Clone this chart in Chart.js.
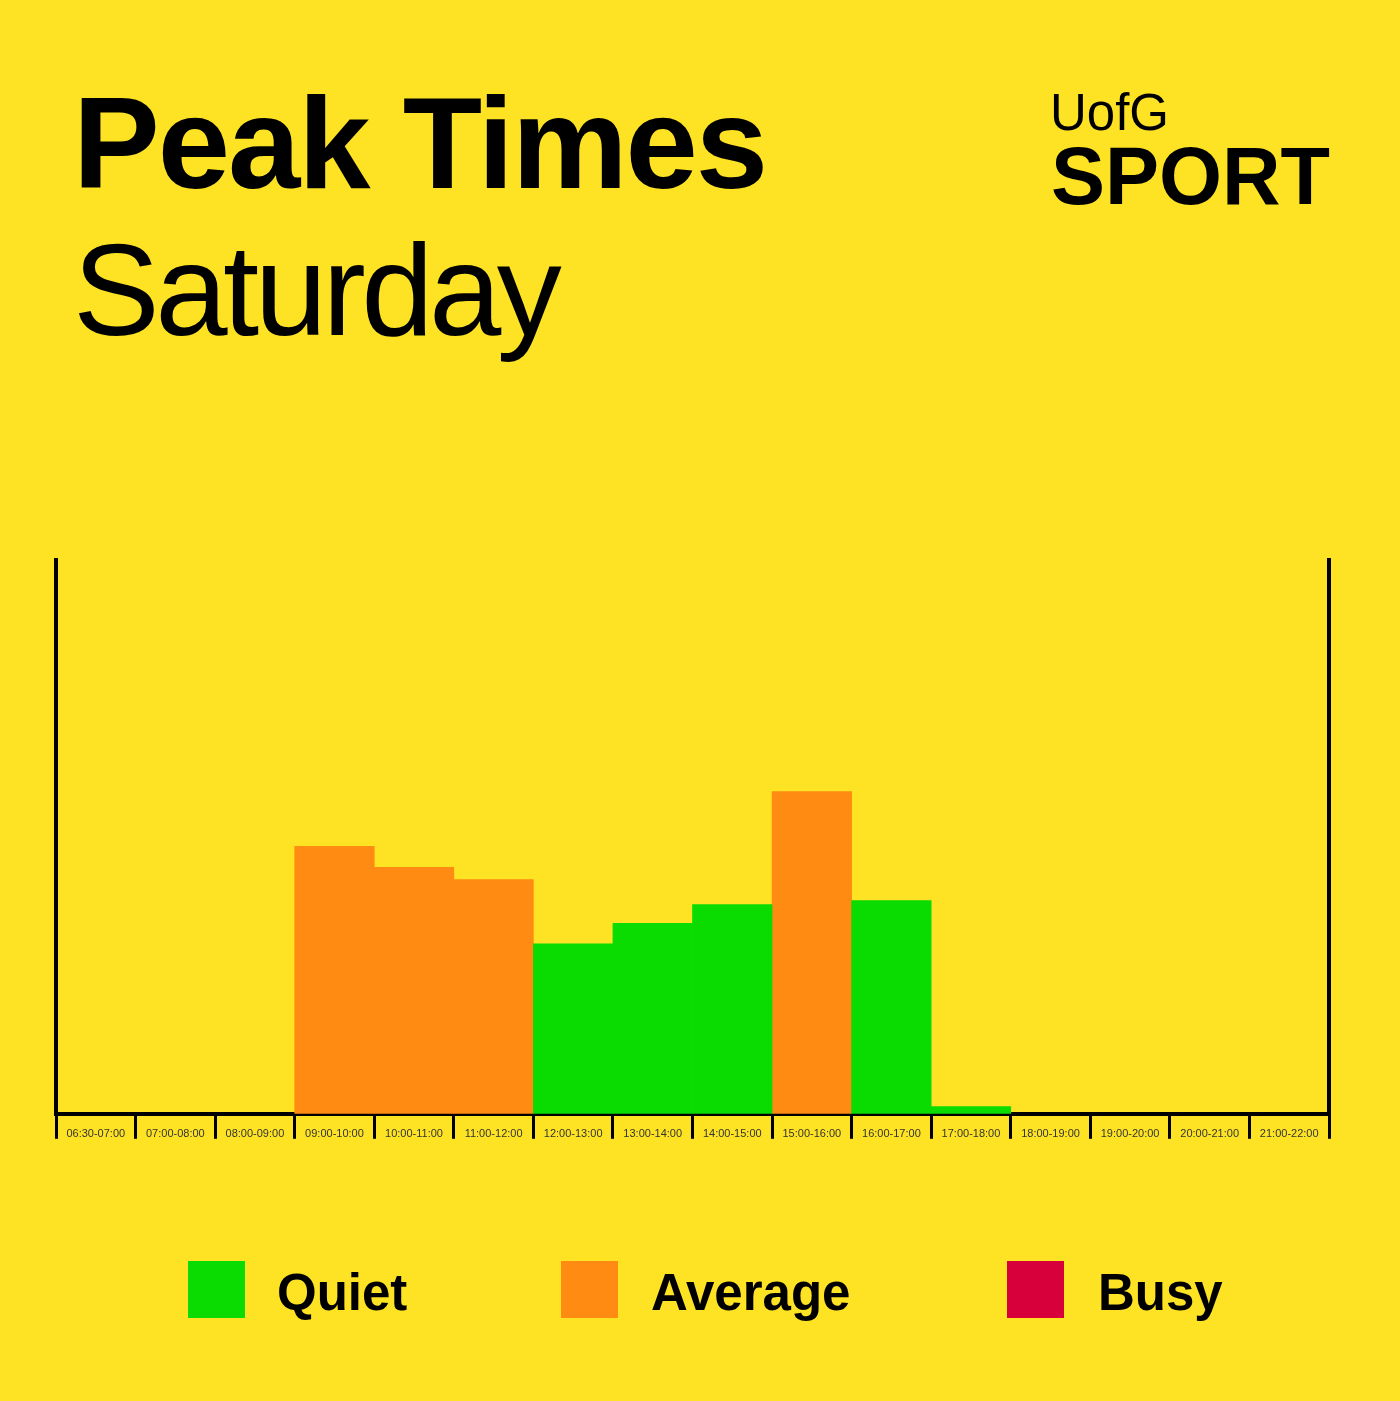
<!DOCTYPE html>
<html>
<head>
<meta charset="utf-8">
<script src="https://cdn.jsdelivr.net/npm/chart.js@4"></script>
<style>
  html, body { margin: 0; padding: 0; }
  body { width: 1400px; height: 1401px; background: #fee324; position: relative; overflow: hidden;
         font-family: "Liberation Sans", Arial, Helvetica, sans-serif; color: #000; }
  .t { position: absolute; line-height: 1; white-space: nowrap; }
  #chartBox { position: absolute; left: 0; top: 540px; width: 1400px; height: 620px; }
  .sw { position: absolute; width: 57px; height: 57px; top: 1261px; }
</style>
</head>
<body>
<div class="t" style="left:73px;top:78px;font-size:130px;font-weight:bold;letter-spacing:-2px;">Peak Times</div>
<div class="t" style="left:73px;top:225px;font-size:130px;letter-spacing:-4.5px;">Saturday</div>
<div class="t" style="left:1050px;top:87px;font-size:51px;">UofG</div>
<div class="t" style="left:1051px;top:136px;font-size:81px;font-weight:bold;">SPORT</div>

<div id="chartBox"><canvas id="peak"></canvas></div>

<div class="sw" style="left:188px;background:#0adb00;"></div>
<div class="t" style="left:277px;top:1267px;font-size:51px;font-weight:bold;">Quiet</div>
<div class="sw" style="left:561px;background:#ff8b12;"></div>
<div class="t" style="left:651px;top:1267px;font-size:51px;font-weight:bold;">Average</div>
<div class="sw" style="left:1007px;background:#d8003a;"></div>
<div class="t" style="left:1098px;top:1267px;font-size:51px;font-weight:bold;">Busy</div>

<script>
// time slots on the x axis
const slots = ['06:30-07:00','07:00-08:00','08:00-09:00','09:00-10:00','10:00-11:00','11:00-12:00',
  '12:00-13:00','13:00-14:00','14:00-15:00','15:00-16:00','16:00-17:00','17:00-18:00',
  '18:00-19:00','19:00-20:00','20:00-21:00','21:00-22:00'];
// how busy each slot is (0-100), read from the graphic
const quiet   = [null,null,null,null,null,null,30.7,34.4,37.8,null,38.5,1.3,null,null,null,null];
const average = [null,null,null,48.3,44.5,42.3,null,null,null,58.2,null,null,null,null,null,null];
const busy    = [null,null,null,null,null,null,null,null,null,null,null,null,null,null,null,null];

const black = '#000';
new Chart(document.getElementById('peak'), {
  type: 'bar',
  data: {
    labels: slots,
    datasets: [
      { label: 'Quiet',   data: quiet,   backgroundColor: '#0adb00' },
      { label: 'Average', data: average, backgroundColor: '#ff8b12' },
      { label: 'Busy',    data: busy,    backgroundColor: '#d8003a' }
    ]
  },
  options: {
    responsive: true, maintainAspectRatio: false, animation: false,
    layout: { padding: { left: 48, right: 63, top: 20, bottom: 18 } },
    datasets: { bar: { barPercentage: 1, categoryPercentage: 1, borderWidth: 0 } },
    plugins: { legend: { display: false }, tooltip: { enabled: false } },
    scales: {
      x: {
        stacked: true,
        offset: true,
        grid: { display: true, offset: true, drawOnChartArea: false, drawTicks: true,
                tickLength: 25, lineWidth: 3, color: black },
        border: { display: true, color: black, width: 4 },
        ticks: { color: '#333', font: { size: 11, family: '"Liberation Sans", Arial, sans-serif' },
                 maxRotation: 0, autoSkip: false, padding: -5, crossAlign: 'center' }
      },
      y: {
        stacked: true, min: 0, max: 100,
        grid: { display: false },
        border: { display: true, color: black, width: 4 },
        ticks: { display: false }
      },
      y2: {
        position: 'right', min: 0, max: 100,
        grid: { display: false },
        border: { display: true, color: black, width: 4 },
        ticks: { display: false }
      }
    }
  }
});
</script>
</body>
</html>
